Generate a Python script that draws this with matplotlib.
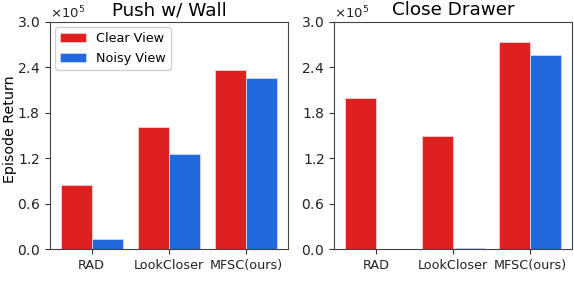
import matplotlib
matplotlib.use("Agg")
import matplotlib.pyplot as plt
import numpy as np
from matplotlib.ticker import ScalarFormatter

categories = ["RAD", "LookCloser", "MFSC(ours)"]
series_names = ["Clear View", "Noisy View"]
titles = ["Push w/ Wall", "Close Drawer"]
push_clear = [85000, 161000, 236000]
push_noisy = [13000, 125000, 226000]
drawer_clear = [199000, 150000, 273000]
drawer_noisy = [0, 1500, 257000]
yticks = [0, 60000, 120000, 180000, 240000, 300000]

colors = ["#DF2020", "#2169DD"]

plt.rcParams['font.family'] = ['DejaVu Sans']
fig, axes = plt.subplots(1, 2, figsize=(5.74, 2.82), dpi=100)
fig.subplots_adjust(left=0.0871, right=0.9965, bottom=0.117, top=0.922, wspace=0.195)

data = [(push_clear, push_noisy), (drawer_clear, drawer_noisy)]
x = np.arange(len(categories))
w = 0.4
for ax, (c, n), t in zip(axes, data, titles):
    ax.bar(x - w/2, c, w, color=colors[0], edgecolor="#F4D0D0", linewidth=0.6, label=series_names[0])
    ax.bar(x + w/2, n, w, color=colors[1], edgecolor="#C8DAF5", linewidth=0.6, label=series_names[1])
    ax.set_xticks(x)
    ax.set_xticklabels(categories, fontsize=9.2)
    ax.set_ylim(0, 300000)
    ax.set_yticks(yticks)
    fmt = ScalarFormatter(useMathText=True)
    fmt.set_powerlimits((5, 5))
    ax.yaxis.set_major_formatter(fmt)
    ax.tick_params(axis="y", labelsize=10)
    ax.tick_params(color="#333333", labelcolor="#222222")
    ax.yaxis.get_offset_text().set_fontsize(9.5)
    ax.set_title(t, fontsize=13.2, pad=5)
    for s in ax.spines.values():
        s.set_color("#444444")

axes[0].set_ylabel("Episode Return", fontsize=10.3)
axes[0].yaxis.set_label_coords(-0.138, 0.53)
axes[0].legend(loc="upper left", fontsize=9.2, handlelength=2.0, framealpha=0.9,
               borderaxespad=0.4)
fig.savefig("out.png", dpi=100)
